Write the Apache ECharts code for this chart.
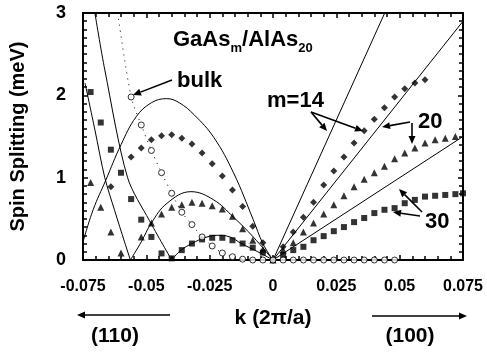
<!DOCTYPE html>
<html>
<head>
<meta charset="utf-8">
<script src="https://cdn.jsdelivr.net/npm/echarts@6/dist/echarts.min.js"></script>
<style>
  html, body { margin: 0; padding: 0; background: #fff; }
  #main { width: 487px; height: 352px; }
</style>
</head>
<body>
<div id="main"></div>
<script>
// k in units of 2pi/a, splitting in meV
var d14K = [-0.064, -0.056, -0.052, -0.048, -0.044, -0.040, -0.036, -0.032, -0.028, -0.024, -0.020, -0.016, -0.012, -0.008, -0.004, 0,
  0.004, 0.008, 0.012, 0.016, 0.020, 0.024, 0.028, 0.032, 0.036, 0.040, 0.044, 0.048, 0.052, 0.056, 0.060];
var d14Y = [0.89, 1.25, 1.36, 1.46, 1.51, 1.52, 1.48, 1.41, 1.30, 1.17, 1.02, 0.85, 0.65, 0.41, 0.21, 0,
  0.16, 0.34, 0.52, 0.70, 0.91, 1.08, 1.25, 1.42, 1.57, 1.71, 1.85, 1.98, 2.08, 2.15, 2.19];

var t20K = [-0.072, -0.068, -0.064, -0.060, -0.052, -0.048, -0.044, -0.040, -0.036, -0.032, -0.028, -0.024, -0.020, -0.016, -0.012, -0.008, -0.004, 0,
  0.004, 0.008, 0.012, 0.016, 0.020, 0.024, 0.028, 0.032, 0.036, 0.040, 0.044, 0.048, 0.052, 0.056, 0.060, 0.064, 0.068, 0.072];
var t20Y = [0.94, 0.64, 0.34, 0.085, 0.28, 0.45, 0.56, 0.64, 0.67, 0.70, 0.69, 0.66, 0.62, 0.53, 0.38, 0.24, 0.13, 0,
  0.12, 0.21, 0.34, 0.45, 0.56, 0.67, 0.78, 0.89, 0.98, 1.06, 1.14, 1.23, 1.30, 1.36, 1.42, 1.46, 1.48, 1.50];

var s30K = [-0.072, -0.068, -0.064, -0.060, -0.056, -0.052, -0.048, -0.044, -0.040, -0.036, -0.032, -0.028, -0.024, -0.020, -0.016, -0.012, -0.008, -0.004, 0,
  0.004, 0.008, 0.012, 0.016, 0.020, 0.024, 0.028, 0.032, 0.036, 0.040, 0.044, 0.048, 0.052, 0.056, 0.060, 0.064, 0.068, 0.072, 0.075];
var s30Y = [2.04, 1.67, 1.34, 1.06, 0.74, 0.49, 0.28, 0.08, 0.02, 0.12, 0.20, 0.25, 0.27, 0.27, 0.24, 0.20, 0.15, 0.09, 0,
  0.06, 0.12, 0.16, 0.24, 0.29, 0.35, 0.40, 0.46, 0.51, 0.57, 0.61, 0.63, 0.69, 0.73, 0.77, 0.78, 0.79, 0.80, 0.81];

var bulkK = [-0.056, -0.052, -0.048, -0.044, -0.040, -0.036, -0.032, -0.028, -0.024, -0.020, -0.016, -0.012, -0.008, -0.004, 0,
  0.004, 0.008, 0.012, 0.016, 0.020, 0.024, 0.028, 0.032, 0.036, 0.040, 0.044, 0.048];
var bulkY = [1.98, 1.64, 1.33, 1.06, 0.81, 0.58, 0.43, 0.28, 0.17, 0.085, 0.04, 0.01, 0, 0, 0,
  0, 0, 0, 0, 0, 0, 0, 0, 0, 0, 0, 0];

// dotted bulk curve (continues above the top circle)
var bulkLineK = [-0.0613, -0.056, -0.052, -0.048, -0.044, -0.040, -0.036, -0.032, -0.028, -0.024, -0.020, -0.016, -0.012, -0.008, 0];
var bulkLineY = [3.0, 1.98, 1.64, 1.33, 1.06, 0.81, 0.58, 0.43, 0.28, 0.17, 0.085, 0.04, 0.01, 0, 0];

// calculated curves, (110) side
var c14K = [-0.075, -0.071, -0.066, -0.060, -0.054, -0.048, -0.042, -0.037, -0.031, -0.0234, -0.0156, -0.0078, -0.004, 0];
var c14Y = [0.22, 0.61, 0.97, 1.40, 1.74, 1.91, 1.96, 1.91, 1.76, 1.49, 1.06, 0.49, 0.2, 0];
var c20aK = [-0.0742, -0.0703, -0.0664, -0.0625, -0.0586, -0.0563];
var c20aY = [2.15, 1.58, 1.00, 0.60, 0.22, 0];
var c20bK = [-0.0563, -0.052, -0.048, -0.0418, -0.0324, -0.0234, -0.0156, -0.0078, 0];
var c20bY = [0, 0.22, 0.45, 0.69, 0.83, 0.73, 0.52, 0.28, 0];
var c30aK = [-0.0703, -0.0664, -0.0574, -0.0488, -0.040];
var c30aY = [3.0, 2.31, 1.0, 0.48, 0];
var c30bK = [-0.040, -0.0363, -0.032, -0.027, -0.022, -0.017, -0.0125, -0.006, 0];
var c30bY = [0, 0.12, 0.20, 0.27, 0.30, 0.28, 0.20, 0.10, 0];
// (100) side straight lines
var r14K = [0, 0.0441], r14Y = [0, 3.0];
var r20K = [0, 0.075], r20Y = [0, 2.9];
var r30K = [0, 0.075], r30Y = [0, 1.5];

var xTicks = [-0.075, -0.05, -0.025, 0, 0.025, 0.05, 0.075];
var yTicks = [0, 1, 2, 3];

function zip(a, b) {
  return a.map(function (v, i) { return [v, b[i]]; });
}

var FONT = 'Liberation Sans';

function curve(k, y, smooth, extra) {
  var s = {
    type: 'line',
    data: zip(k, y),
    showSymbol: false,
    smooth: smooth,
    silent: true,
    lineStyle: { color: '#000', width: 1 },
    z: 2
  };
  if (extra) Object.assign(s.lineStyle, extra);
  return s;
}

function marks(k, y, symbol, size, open) {
  return {
    type: 'scatter',
    data: zip(k, y),
    symbol: symbol,
    symbolSize: size,
    clip: false,
    itemStyle: open ? { color: '#fff', borderColor: '#000', borderWidth: 1 } : { color: '#000' },
    z: 3
  };
}

function arrow(x1, y1, x2, y2, w) {
  var a = Math.atan2(y2 - y1, x2 - x1);
  var L = 8, W = 3.5;
  var bx = x2 - L * Math.cos(a), by = y2 - L * Math.sin(a);
  return [
    { type: 'line', shape: { x1: x1, y1: y1, x2: bx, y2: by }, style: { stroke: '#000', lineWidth: w || 1.6 } },
    { type: 'polygon', shape: { points: [[x2, y2], [bx - W * Math.sin(a), by + W * Math.cos(a)], [bx + W * Math.sin(a), by - W * Math.cos(a)]] }, style: { fill: '#000' } }
  ];
}

function label(txt, x, y, size, align) {
  return {
    type: 'text', x: x, y: y,
    style: { text: txt, fontSize: size, fontWeight: 'bold', fontFamily: FONT, fill: '#000', align: align || 'left', verticalAlign: 'middle' }
  };
}

var chart = echarts.init(document.getElementById('main'));

var axisCommon = {
  type: 'value',
  splitLine: { show: false },
  axisLine: { show: true, onZero: false, lineStyle: { color: '#000', width: 2 } },
  axisTick: { show: true, inside: true, length: 5, lineStyle: { color: '#000', width: 1.5 } },
  minorTick: { show: true, length: 4, lineStyle: { color: '#000', width: 1.5 } },
  minorSplitLine: { show: false }
};

var graphics = [
  {
    type: 'text', x: 173, y: 40,
    style: {
      text: '{a|GaAs}{s|m}{a|/AlAs}{s|20}',
      fill: '#000', verticalAlign: 'middle',
      rich: {
        a: { fontSize: 22, fontWeight: 'bold', fontFamily: FONT, verticalAlign: 'bottom' },
        s: { fontSize: 13, fontWeight: 'bold', fontFamily: FONT, verticalAlign: 'bottom', padding: [0, 0, -4, 0] }
      }
    }
  },
  label('bulk', 177, 81, 22),
  label('m=14', 267, 101, 22),
  label('20', 418, 122, 22),
  label('30', 425, 222, 22),
  label('(110)', 115, 336, 21, 'center'),
  label('(100)', 410, 336, 21, 'center')
].concat(
  arrow(172, 80, 133, 95),
  arrow(311, 112, 327, 131),
  arrow(311, 112, 363, 131),
  arrow(410, 122, 382, 127),
  arrow(412, 123, 412, 144),
  arrow(422, 212, 399, 189),
  arrow(420, 216, 393, 212),
  arrow(170, 315, 77, 315, 1.4),
  arrow(372, 316, 467, 316, 1.4)
);

var option = {
  backgroundColor: '#ffffff',
  animation: false,
  grid: { left: 79, right: 24, top: 13, bottom: 92 },
  xAxis: [
    Object.assign({}, axisCommon, {
      position: 'bottom',
      min: xTicks[0], max: xTicks[xTicks.length - 1], interval: 0.025,
      minorTick: Object.assign({}, axisCommon.minorTick, { splitNumber: 5 }),
      axisLabel: {
        color: '#000', fontSize: 16, fontWeight: 'bold', fontFamily: FONT, margin: 19,
        formatter: function (v) { return String(+v.toFixed(3)); }
      },
      name: 'k (2\u03c0/a)', nameLocation: 'middle', nameGap: 48,
      nameTextStyle: { color: '#000', fontSize: 21, fontWeight: 'bold', fontFamily: FONT }
    }),
    Object.assign({}, axisCommon, {
      position: 'top',
      min: xTicks[0], max: xTicks[xTicks.length - 1], interval: 0.025,
      minorTick: Object.assign({}, axisCommon.minorTick, { splitNumber: 5 }),
      axisLabel: { show: false }
    })
  ],
  yAxis: [
    Object.assign({}, axisCommon, {
      position: 'left',
      min: yTicks[0], max: yTicks[yTicks.length - 1], interval: 1,
      minorTick: Object.assign({}, axisCommon.minorTick, { splitNumber: 10 }),
      axisLabel: { color: '#000', fontSize: 18, fontWeight: 'bold', fontFamily: FONT, margin: 17 },
      name: 'Spin Splitting (meV)', nameLocation: 'middle', nameGap: 55,
      nameTextStyle: { color: '#000', fontSize: 20, fontWeight: 'bold', fontFamily: FONT }
    }),
    Object.assign({}, axisCommon, {
      position: 'right',
      min: yTicks[0], max: yTicks[yTicks.length - 1], interval: 1,
      minorTick: Object.assign({}, axisCommon.minorTick, { splitNumber: 10 }),
      axisLabel: { show: false }
    })
  ],
  series: [
    curve(c14K, c14Y, 0.4),
    curve(c20aK, c20aY, 0.3),
    curve(c20bK, c20bY, 0.4),
    curve(c30aK, c30aY, 0.3),
    curve(c30bK, c30bY, 0.4),
    curve(r14K, r14Y, false),
    curve(r20K, r20Y, false),
    curve(r30K, r30Y, false),
    curve(bulkLineK, bulkLineY, 0.3, { type: [1, 5] }),
    marks(d14K, d14Y, 'diamond', 7),
    marks(t20K, t20Y, 'triangle', 7),
    marks(s30K, s30Y, 'rect', 6),
    marks(bulkK, bulkY, 'circle', 6, true)
  ],
  graphic: graphics
};

chart.setOption(option);
</script>
</body>
</html>
